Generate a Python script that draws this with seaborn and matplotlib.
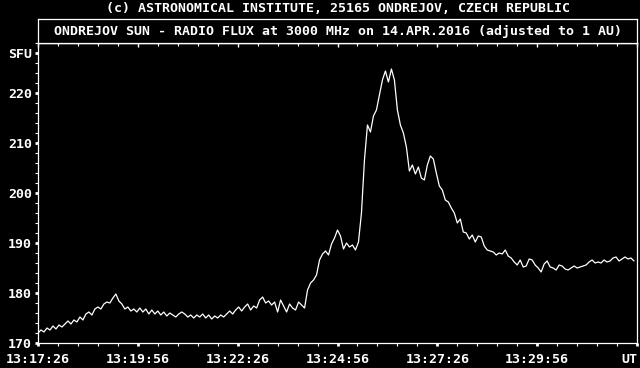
import numpy as np
import pandas as pd
import matplotlib
matplotlib.use("Agg")
import matplotlib.pyplot as plt
import seaborn as sns
from matplotlib.ticker import MultipleLocator, FixedLocator

# ---- data ----
sample_step_s = 4.5   # seconds between samples, starting 13:17:26
flux = [
    172.0, 172.6, 172.2, 173.0, 172.6, 173.4, 172.8, 173.6, 173.2, 173.8,
    174.4, 173.8, 174.6, 174.2, 175.2, 174.6, 175.8, 176.2, 175.6, 176.8,
    177.2, 176.8, 177.8, 178.2, 178.0, 179.0, 179.8, 178.4, 177.8, 176.8,
    177.2, 176.4, 176.8, 176.2, 177.0, 176.2, 176.8, 175.8, 176.6, 175.8,
    176.4, 175.6, 176.2, 175.4, 176.0, 175.6, 175.2, 175.8, 176.2, 175.8,
    175.2, 175.6, 175.0, 175.6, 175.2, 175.8, 175.0, 175.6, 174.8, 175.4,
    175.0, 175.6, 175.2, 175.8, 176.4, 175.8, 176.6, 177.2, 176.4, 177.2,
    177.8, 176.6, 177.4, 177.0, 178.6, 179.2, 178.0, 178.4, 177.6, 178.2,
    176.2, 178.6, 177.4, 176.2, 177.8, 177.0, 176.6, 178.2, 177.6, 177.0,
    180.6, 182.0, 182.6, 183.6, 186.6, 187.8, 188.4, 187.6, 189.8, 191.0,
    192.6, 191.4, 188.8, 190.0, 189.2, 189.6, 188.6, 190.2, 196.0, 206.6,
    213.6, 212.2, 215.4, 216.6, 219.6, 222.6, 224.4, 222.2, 224.8, 222.6,
    216.6, 213.6, 212.0, 209.2, 204.4, 205.6, 203.8, 205.2, 203.0, 202.6,
    205.6, 207.4, 206.8, 204.0, 201.4, 200.6, 198.6, 198.2, 197.0, 196.0,
    194.0, 194.8, 192.2, 192.0, 190.8, 191.6, 190.2, 191.4, 191.2, 189.4,
    188.6, 188.4, 188.2, 187.6, 188.0, 187.8, 188.6, 187.4, 187.0, 186.2,
    185.6, 186.6, 185.2, 185.4, 186.8, 186.6, 185.6, 185.0, 184.2, 185.8,
    186.4, 185.2, 185.0, 184.6, 185.6, 185.4, 184.8, 184.6, 185.0, 185.4,
    185.0, 185.2, 185.4, 185.6, 186.2, 186.6, 186.0, 186.2, 186.0, 186.6,
    186.2, 186.4, 187.0, 187.2, 186.4, 186.8, 187.2, 186.8, 187.0, 186.4,
]
x_tick_seconds = [0, 150, 300, 450, 600, 750, 900]
x_tick_labels = ["13:17:26", "13:19:56", "13:22:26", "13:24:56",
                 "13:27:26", "13:29:56", "UT"]
y_tick_values = [170, 180, 190, 200, 210, 220, 228]
y_tick_labels = ["170", "180", "190", "200", "210", "220", "SFU"]
header = "(c) ASTRONOMICAL INSTITUTE, 25165 ONDREJOV, CZECH REPUBLIC"
box_title = "ONDREJOV SUN - RADIO FLUX at 3000 MHz on 14.APR.2016 (adjusted to 1 AU)"

# ---- style ----
sns.set_theme(style="ticks")
plt.rcParams["font.family"] = ["DejaVu Sans Mono", "DejaVu Sans"]
plt.rcParams["font.weight"] = "bold"
FS = 9.5
W, H = 640, 368

fig = plt.figure(figsize=(W / 100, H / 100), dpi=100, facecolor="black")
ax = fig.add_axes([38 / W, 25 / H, 599 / W, 300 / H])
ax.set_facecolor("black")

df = pd.DataFrame({"t": np.arange(len(flux)) * sample_step_s, "flux": flux})
sns.lineplot(data=df, x="t", y="flux", color="white", linewidth=0.9, ax=ax)

ax.set_xlim(0, 900)
ax.set_ylim(170, 230)
ax.set_xlabel("")
ax.set_ylabel("")

for s in ax.spines.values():
    s.set_color("white")
    s.set_linewidth(0.9)
    s.set_visible(True)

ax.xaxis.set_major_locator(FixedLocator(x_tick_seconds))
ax.set_xticklabels(x_tick_labels)
ax.xaxis.set_minor_locator(MultipleLocator(30))
ax.yaxis.set_major_locator(FixedLocator(y_tick_values))
ax.set_yticklabels(y_tick_labels)
ax.yaxis.set_minor_locator(MultipleLocator(2))

ax.tick_params(axis="both", which="major", colors="white", labelcolor="white",
               labelsize=FS, direction="out", length=2.2, width=2.0)
ax.tick_params(axis="both", which="minor", colors="white",
               direction="out", length=2.0, width=0.8)
ax.tick_params(axis="x", which="major", pad=5)
ax.tick_params(axis="y", which="major", pad=2)
for lab in ax.get_xticklabels() + ax.get_yticklabels():
    lab.set_fontweight("bold")
ax.get_xticklabels()[-1].set_horizontalalignment("right")

# top border ticks pointing inward
sec = ax.secondary_xaxis("top")
sec.xaxis.set_major_locator(FixedLocator(x_tick_seconds))
sec.xaxis.set_minor_locator(MultipleLocator(30))
sec.tick_params(which="major", direction="in", length=3.0, width=1.0,
                colors="white", labeltop=False)
sec.tick_params(which="minor", direction="in", length=2.0, width=0.8,
                colors="white")
sec.set_xticklabels([])
sec.spines["top"].set_color("white")
sec.spines["top"].set_linewidth(0.9)

# title box above plot
box = fig.add_axes([38 / W, (H - 43) / H, 599 / W, 24 / H])
box.set_facecolor("black")
box.set_xticks([])
box.set_yticks([])
for s in box.spines.values():
    s.set_color("white")
    s.set_linewidth(0.9)
box.text(0.5, 0.5, box_title, color="white", fontsize=FS, fontweight="bold",
         ha="center", va="center", transform=box.transAxes)

fig.text(338 / W, 1 - 8.5 / H, header, color="white", fontsize=FS,
         fontweight="bold", ha="center", va="center")

fig.savefig("out.png", dpi=100, facecolor="black")
